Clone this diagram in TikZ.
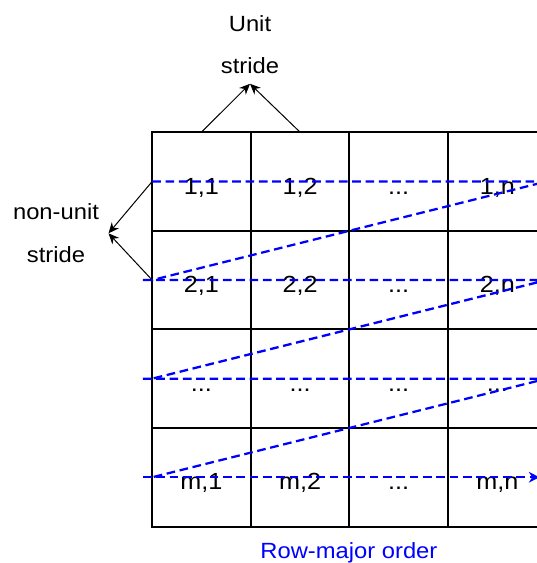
\documentclass[tikz,border=0pt]{standalone}
\usepackage{fontspec}
\setmainfont{Liberation Sans}[FakeStretch=1.08]
\usepackage{tikz}
\usetikzlibrary{
  arrows.meta,
  positioning
}
\definecolor{rowblue}{RGB}{0, 0, 255}

\begin{document}
\begin{tikzpicture}[
  cell/.style={draw, line width=0.75pt, minimum size=73.2pt, inner sep=0pt,
    text height=19pt, text depth=0pt, font=\fontsize{17.5pt}{20pt}\selectfont},
  lbl/.style={align=center, inner sep=7pt, font=\fontsize{16.5pt}{32pt}\selectfont},
  strarrow/.style={line width=0.75pt, -{Stealth[length=8pt, width=7pt]}},
  walk/.style={rowblue, line width=1.7pt, dash pattern=on 6.5pt off 3.5pt}
]
\useasboundingbox (0,0) rectangle (402pt,-422.25pt);

\node[cell] (c11) at (151.1pt,-136.1pt) {1,1};
\node[cell, right=0pt of c11] (c12) {1,2};
\node[cell, right=0pt of c12] (c13) {...};
\node[cell, right=0pt of c13] (c14) {1,n};
\node[cell, below=0pt of c11] (c21) {2,1};
\node[cell, right=0pt of c21] (c22) {2,2};
\node[cell, right=0pt of c22] (c23) {...};
\node[cell, right=0pt of c23] (c24) {2,n};
\node[cell, below=0pt of c21] (c31) {...};
\node[cell, right=0pt of c31] (c32) {...};
\node[cell, right=0pt of c32] (c33) {...};
\node[cell, right=0pt of c33] (c34) {...};
\node[cell, below=0pt of c31] (c41) {m,1};
\node[cell, right=0pt of c41] (c42) {m,2};
\node[cell, right=0pt of c42] (c43) {...};
\node[cell, right=0pt of c43] (c44) {m,n};
\draw[line width=1.5pt] (c11.north west) rectangle (c44.south east);

\node[lbl] (unit) at (187.5pt,-33.6pt) {Unit\\stride};
\node[lbl] (nonunit) at (42pt,-175pt) {non-unit\\stride};
\node[rowblue, anchor=base, font=\fontsize{16.5pt}{20pt}\selectfont] (order)
  at (261.7pt,-418.7pt) {Row-major order};

\draw[strarrow] (c11.north) -- (unit.south);
\draw[strarrow] (c12.north) -- (unit.south);
\draw[strarrow] (c11.west) -- (nonunit.east);
\draw[strarrow] (c21.west) -- (nonunit.east);

\draw[walk] (c11.west) -- (c14.east) -- (c21.west);
\draw[walk] ([xshift=-7pt]c21.west) -- (c24.east) -- (c31.west);
\draw[walk] ([xshift=-7pt]c31.west) -- (c34.east) -- (c41.west);
\draw[walk, -{Stealth[length=8pt, width=8pt]}] ([xshift=-7pt]c41.west) -- ([xshift=-5.3pt]c44.east);
\end{tikzpicture}
\end{document}
